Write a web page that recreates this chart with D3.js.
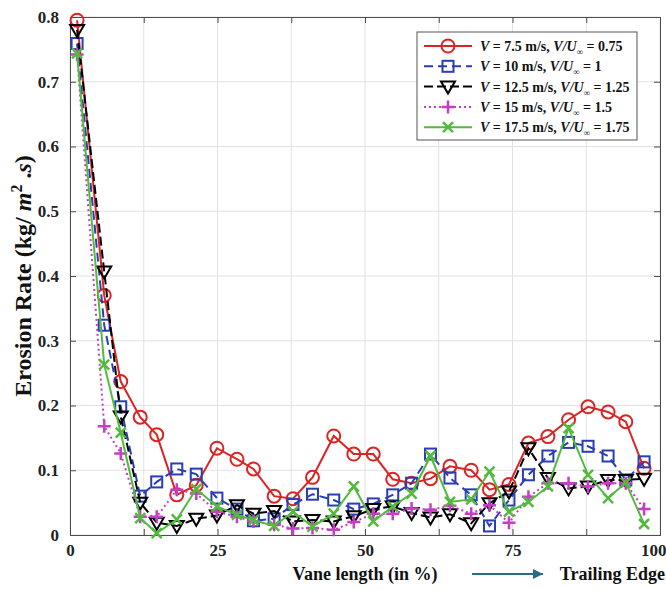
<!DOCTYPE html>
<html>
<head>
<meta charset="utf-8">
<script src="https://cdn.jsdelivr.net/npm/d3@7"></script>
<style>
  body { margin: 0; background: #fff; }
  text { font-family: "Liberation Serif", "Times New Roman", serif; font-weight: bold; }
</style>
</head>
<body>
<svg id="chart" width="666" height="589"></svg>
<script>
// vane positions (%) shared by all series
const vanePos = [1.2, 5.8, 8.6, 11.9, 14.7, 18.1, 21.4, 24.9, 28.3, 31.1, 34.6, 37.8, 41.1, 44.7, 48.1,
  51.4, 54.7, 57.9, 61.1, 64.4, 68.0, 71.1, 74.4, 77.7, 81.0, 84.5, 87.8, 91.2, 94.2, 97.3];

const rate75 = [0.795, 0.37, 0.237, 0.182, 0.155, 0.062, 0.077, 0.134, 0.117, 0.102, 0.06, 0.056, 0.089, 0.153, 0.125,
  0.125, 0.086, 0.08, 0.087, 0.106, 0.1, 0.07, 0.078, 0.142, 0.152, 0.178, 0.198, 0.19, 0.175, 0.103];
const rate10 = [0.759, 0.324, 0.198, 0.06, 0.082, 0.102, 0.094, 0.057, 0.04, 0.022, 0.025, 0.047, 0.063, 0.054, 0.04,
  0.048, 0.062, 0.08, 0.125, 0.088, 0.062, 0.014, 0.054, 0.093, 0.122, 0.143, 0.137, 0.122, 0.085, 0.113];
const rate125 = [0.78, 0.407, 0.183, 0.05, 0.019, 0.014, 0.025, 0.03, 0.046, 0.033, 0.037, 0.021, 0.023, 0.021, 0.029,
  0.04, 0.044, 0.034, 0.027, 0.032, 0.018, 0.049, 0.067, 0.134, 0.088, 0.072, 0.075, 0.085, 0.085, 0.087];
const rate15 = [0.742, 0.168, 0.126, 0.028, 0.028, 0.07, 0.064, 0.036, 0.028, 0.021, 0.016, 0.01, 0.011, 0.008, 0.02,
  0.033, 0.033, 0.041, 0.039, 0.045, 0.033, 0.046, 0.019, 0.059, 0.08, 0.08, 0.075, 0.08, 0.08, 0.04];
const rate175 = [0.744, 0.263, 0.158, 0.026, 0.003, 0.024, 0.071, 0.044, 0.031, 0.023, 0.014, 0.036, 0.013, 0.033, 0.075,
  0.021, 0.044, 0.064, 0.122, 0.051, 0.055, 0.098, 0.036, 0.051, 0.075, 0.165, 0.093, 0.057, 0.081, 0.017];

const speeds = ["7.5", "10", "12.5", "15", "17.5"];
const ratios = ["0.75", "1", "1.25", "1.5", "1.75"];

const xTicks = [0, 12.5, 25, 37.5, 50, 62.5, 75, 87.5, 100];
const xTickLabels = ["0", "", "25", "", "50", "", "75", "", "100"];
const yTicks = [0, 0.1, 0.2, 0.3, 0.4, 0.5, 0.6, 0.7, 0.8];

const styles = [
  { color: "#dc2424", dash: null, marker: "circle" },
  { color: "#2b3db5", dash: "9,5", marker: "square" },
  { color: "#000000", dash: "9,4", marker: "triangle" },
  { color: "#c43fc4", dash: "2,3", marker: "plus" },
  { color: "#52bb3e", dash: null, marker: "cross" }
];
const series = [rate75, rate10, rate125, rate15, rate175].map((vals, i) => ({
  values: vals, style: styles[i], speed: speeds[i], ratio: ratios[i]
}));

const plotLeft = 70, plotRight = 660, plotTop = 17, plotBottom = 535;
const svg = d3.select('#chart');

const x = d3.scaleLinear().domain([0, 100]).range([plotLeft, plotRight]);
const y = d3.scaleLinear().domain([0, 0.8]).range([plotBottom, plotTop]);

// grid
svg.append('g').selectAll('line').data(xTicks).enter().append('line')
  .attr('x1', d => x(d)).attr('x2', d => x(d)).attr('y1', plotTop).attr('y2', plotBottom)
  .attr('stroke', '#e2e2e2').attr('stroke-width', 1);
svg.append('g').selectAll('line').data(yTicks).enter().append('line')
  .attr('x1', plotLeft).attr('x2', plotRight).attr('y1', d => y(d)).attr('y2', d => y(d))
  .attr('stroke', '#e2e2e2').attr('stroke-width', 1);

// axes (ticks pointing inward, MATLAB style)
const axisColor = '#4d4d4d';
const xAxis = svg.append('g').attr('transform', `translate(0,${plotBottom})`)
  .call(d3.axisBottom(x).tickValues(xTicks).tickSize(-6).tickPadding(9)
    .tickFormat((d, i) => xTickLabels[i]));
const xAxisTop = svg.append('g').attr('transform', `translate(0,${plotTop})`)
  .call(d3.axisTop(x).tickValues(xTicks).tickSize(-6).tickFormat(''));
const yAxis = svg.append('g').attr('transform', `translate(${plotLeft},0)`)
  .call(d3.axisLeft(y).tickValues(yTicks).tickSize(-6).tickPadding(11)
    .tickFormat(d => d === 0 ? '0' : d3.format('.1f')(d)));
const yAxisRight = svg.append('g').attr('transform', `translate(${plotRight},0)`)
  .call(d3.axisRight(y).tickValues(yTicks).tickSize(-6).tickFormat(''));

[xAxis, xAxisTop, yAxis, yAxisRight].forEach(a => {
  a.select('.domain').attr('stroke', axisColor);
  a.selectAll('.tick line').attr('stroke', axisColor);
  a.selectAll('.tick text').attr('fill', '#222').style('font-size', '17px')
    .style('font-family', '"Liberation Serif", serif').style('font-weight', 'bold');
});
// keep the last label inside the picture
xAxis.selectAll('.tick text').filter(d => d === 100).attr('text-anchor', 'end').attr('x', 6);

// marker drawing
function drawMarker(g, type, color, cx, cy) {
  if (type === 'circle') {
    g.append('circle').attr('cx', cx).attr('cy', cy).attr('r', 6.5)
      .attr('fill', 'none').attr('stroke', color).attr('stroke-width', 2);
  } else if (type === 'square') {
    g.append('rect').attr('x', cx - 5.5).attr('y', cy - 5.5).attr('width', 11).attr('height', 11)
      .attr('fill', 'none').attr('stroke', color).attr('stroke-width', 2);
  } else if (type === 'triangle') {
    g.append('path').attr('d', `M${cx - 7},${cy - 5}L${cx + 7},${cy - 5}L${cx},${cy + 7}Z`)
      .attr('fill', 'none').attr('stroke', color).attr('stroke-width', 2);
  } else if (type === 'plus') {
    g.append('path').attr('d', `M${cx - 6.5},${cy}L${cx + 6.5},${cy}M${cx},${cy - 6.5}L${cx},${cy + 6.5}`)
      .attr('stroke', color).attr('stroke-width', 2.5);
  } else if (type === 'cross') {
    g.append('path').attr('d', `M${cx - 5},${cy - 5}L${cx + 5},${cy + 5}M${cx + 5},${cy - 5}L${cx - 5},${cy + 5}`)
      .attr('stroke', color).attr('stroke-width', 2.5);
  }
}

const line = d3.line().x(d => x(d[0])).y(d => y(d[1]));

series.forEach(s => {
  const pts = vanePos.map((p, i) => [p, s.values[i]]);
  const g = svg.append('g');
  g.append('path').datum(pts).attr('d', line)
    .attr('fill', 'none').attr('stroke', s.style.color).attr('stroke-width', 2)
    .attr('stroke-dasharray', s.style.dash);
  pts.forEach(p => drawMarker(g, s.style.marker, s.style.color, x(p[0]), y(p[1])));
});

// legend
const legend = svg.append('g');
legend.append('rect').attr('x', 417).attr('y', 32).attr('width', 220).attr('height', 108)
  .attr('fill', '#fff').attr('stroke', '#555').attr('stroke-width', 1);
series.forEach((s, i) => {
  const ly = 46 + i * 20.3;
  legend.append('line').attr('x1', 424).attr('x2', 472).attr('y1', ly).attr('y2', ly)
    .attr('stroke', s.style.color).attr('stroke-width', 2).attr('stroke-dasharray', s.style.dash);
  drawMarker(legend, s.style.marker, s.style.color, 448, ly);
  const t = legend.append('text').attr('x', 480).attr('y', ly + 5).style('font-size', '14px').attr('fill', '#111');
  t.append('tspan').style('font-style', 'italic').text('V');
  t.append('tspan').text(` = ${s.speed} m/s, `);
  t.append('tspan').style('font-style', 'italic').text('V/U');
  t.append('tspan').attr('dy', 4).style('font-size', '9px').text('\u221E');
  t.append('tspan').attr('dy', -4).text(` = ${s.ratio}`);
});

// y axis title
const yt = svg.append('text').attr('transform', `translate(31,${(plotTop + plotBottom) / 2}) rotate(-90)`)
  .attr('text-anchor', 'middle').style('font-size', '24px').attr('fill', '#111');
yt.append('tspan').text('Erosion Rate (kg/ ');
yt.append('tspan').style('font-style', 'italic').text('m');
yt.append('tspan').attr('dy', -9).style('font-size', '16px').text('2');
yt.append('tspan').attr('dy', 9).text(' .');
yt.append('tspan').style('font-style', 'italic').text('s');
yt.append('tspan').text(')');

// x axis title
svg.append('text').attr('x', (plotLeft + plotRight) / 2).attr('y', 580).attr('text-anchor', 'middle')
  .style('font-size', '18px').attr('fill', '#111').text('Vane length (in %)');

// trailing edge arrow
svg.append('defs').append('marker').attr('id', 'arrowhead')
  .attr('viewBox', '0 -5 10 10').attr('refX', 10).attr('refY', 0)
  .attr('markerWidth', 5).attr('markerHeight', 5).attr('orient', 'auto')
  .append('path').attr('d', 'M0,-5L10,0L0,5').attr('fill', '#2a6b86');
svg.append('line').attr('x1', 472).attr('x2', 543).attr('y1', 574).attr('y2', 574)
  .attr('stroke', '#2a6b86').attr('stroke-width', 2).attr('marker-end', 'url(#arrowhead)');
svg.append('text').attr('x', 665).attr('y', 580).attr('text-anchor', 'end')
  .style('font-size', '18px').attr('fill', '#111').text('Trailing Edge');
</script>
</body>
</html>
